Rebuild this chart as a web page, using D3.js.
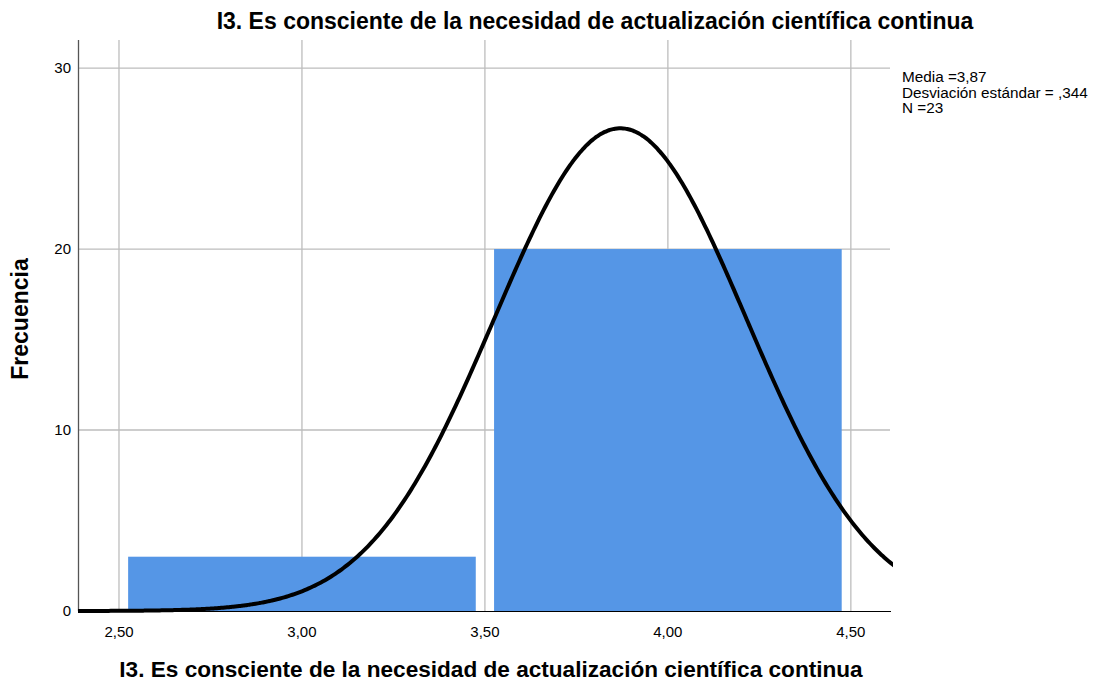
<!DOCTYPE html>
<html><head><meta charset="utf-8">
<script src="https://cdn.jsdelivr.net/npm/d3@7"></script>
<style>body{margin:0;background:#fff;font-family:"Liberation Sans",Arial,sans-serif;}</style>
</head><body><svg id="c" width="1096" height="684"></svg>
<script>
const binStarts = [2.5, 3.5];
const binEnds = [3.5, 4.5];
const counts = [3, 20];
const xTicks = [2.5, 3.0, 3.5, 4.0, 4.5];
const yTicks = [0, 10, 20, 30];
const stats = {mean: 3.87, sd: 0.344, n: 23, binWidth: 1};
const titleText = "I3. Es consciente de la necesidad de actualización científica continua";
const legendLines = ["Media =3,87", "Desviación estándar = ,344", "N =23"];

const svg = d3.select("#c");
const L = 78, R = 890, T = 40, B = 611;
const x = d3.scaleLinear().domain([2.388, 4.607]).range([L, R]);
const y = d3.scaleLinear().domain([0, 31.55]).range([B, T]);
const fmt = d => d3.format(".2f")(d).replace(".", ",");
const grid = "#bdbdbd";

// grid
svg.append("g").selectAll("line").data(xTicks).join("line")
  .attr("x1", d => x(d)).attr("x2", d => x(d)).attr("y1", T).attr("y2", B)
  .attr("stroke", grid).attr("stroke-width", 1.3);
svg.append("g").selectAll("line").data(yTicks.filter(d => d > 0)).join("line")
  .attr("x1", L).attr("x2", R).attr("y1", d => y(d)).attr("y2", d => y(d))
  .attr("stroke", grid).attr("stroke-width", 1.3);

// axes lines
svg.append("line").attr("x1", L).attr("x2", R + 1).attr("y1", B + 0.5).attr("y2", B + 0.5).attr("stroke", "#000").attr("stroke-width", 1);
svg.append("line").attr("x1", L + 0.5).attr("x2", L + 0.5).attr("y1", T).attr("y2", B).attr("stroke", "#555").attr("stroke-width", 1.3);

// bars
const gap = 0.025;
svg.append("g").selectAll("rect").data(counts).join("rect")
  .attr("x", (d, i) => x(binStarts[i] + gap))
  .attr("width", (d, i) => x(binEnds[i] - gap) - x(binStarts[i] + gap))
  .attr("y", d => y(d)).attr("height", d => y(0) - y(d))
  .attr("fill", "#5596e6");

// normal curve
const pts = d3.range(0, 401).map(i => {
  const v = 2.388 + (4.62 - 2.388) * i / 400;
  const z = (v - stats.mean) / stats.sd;
  return [v, stats.n * stats.binWidth / (stats.sd * Math.sqrt(2 * Math.PI)) * Math.exp(-0.5 * z * z)];
});
svg.append("defs").append("clipPath").attr("id", "cp").append("rect")
  .attr("x", L).attr("y", T).attr("width", R - L + 3).attr("height", B - T + 3);
svg.append("path").datum(pts).attr("clip-path", "url(#cp)")
  .attr("d", d3.line().x(d => x(d[0])).y(d => y(d[1])).curve(d3.curveBasis))
  .attr("fill", "none").attr("stroke", "#000").attr("stroke-width", 4);

// tick labels
svg.append("g").selectAll("text").data(yTicks).join("text")
  .attr("x", 71).attr("y", d => y(d)).attr("dy", "0.35em").attr("text-anchor", "end")
  .attr("font-size", 15).text(d => d);
svg.append("g").selectAll("text").data(xTicks).join("text")
  .attr("x", d => x(d)).attr("y", 637).attr("text-anchor", "middle")
  .attr("font-size", 15).text(fmt);

// titles
svg.append("text").attr("x", 595).attr("y", 29).attr("text-anchor", "middle")
  .attr("font-size", 23).attr("font-weight", "bold").text(titleText);
svg.append("text").attr("x", 491).attr("y", 677).attr("text-anchor", "middle")
  .attr("font-size", 22.6).attr("font-weight", "bold").text(titleText);
svg.append("text").attr("transform", "translate(28,319) rotate(-90)").attr("text-anchor", "middle")
  .attr("font-size", 23).attr("font-weight", "bold").text("Frecuencia");

// legend
svg.append("g").selectAll("text").data(legendLines).join("text")
  .attr("x", 902).attr("y", (d, i) => 82 + i * 15.5).attr("font-size", 15.3).text(d => d);
</script></body></html>
